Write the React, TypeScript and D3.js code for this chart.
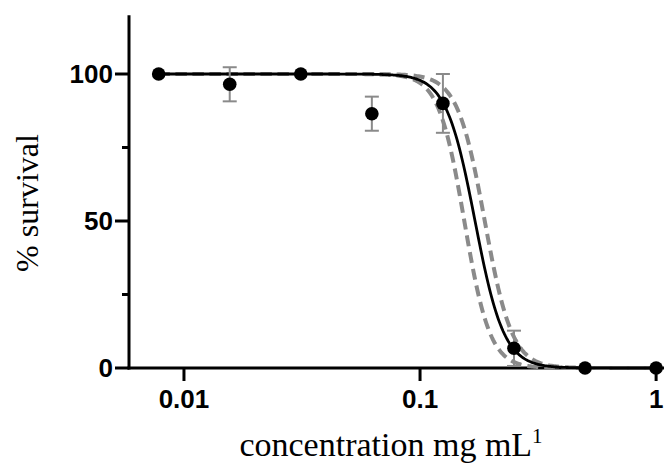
import React from "react";
import * as d3 from "d3";

// ---- data ----
const concentrations = [0.0078125, 0.015625, 0.03125, 0.0625, 0.125, 0.25, 0.5, 1];
const survival = [100, 96.5, 100, 86.5, 90, 6.7, 0, 0];
const errors = [0, 5.8, 0, 5.8, 10, 6, 0, 0];

// fitted dose-response (IC50, Hill slope) for the fit and its 95% bands
const fitParams = { ic50: 0.171, hill: 7.1 };
const lowerBandParams = { ic50: 0.154, hill: 8.0 };
const upperBandParams = { ic50: 0.188, hill: 7.5 };

const yTicksMajor = [0, 50, 100];
const yTicksMinor = [25, 75];
const xTicks = [0.01, 0.1, 1];
const xTickLabels = ["0.01", "0.1", "1"];

const W = 664;
const H = 468;

export default function App() {
  const left = 129;
  const bottom = 368;
  const x = d3.scaleLog().domain([0.00585, 1.08]).range([left, W]);
  const y = d3.scaleLinear().domain([0, 120]).range([bottom, 15.2]);

  const curveXs = d3.range(0, 401).map((i) => {
    const a = Math.log10(concentrations[0]);
    const b = Math.log10(1);
    return Math.pow(10, a + ((b - a) * i) / 400);
  });
  const logistic = (p: { ic50: number; hill: number }) => (c: number) =>
    100 / (1 + Math.pow(c / p.ic50, p.hill));

  const line = d3
    .line<number>()
    .x((c) => x(c))
    .curve(d3.curveLinear);

  const path = (p: { ic50: number; hill: number }) => {
    const f = logistic(p);
    return line.y((c) => y(f(c)))(curveXs) || "";
  };

  const sans = "'Liberation Sans', Arial, Helvetica, sans-serif";
  const serif = "'Palatino Linotype', 'Book Antiqua', Palatino, 'Liberation Serif', serif";

  return (
    <svg
      width={W}
      height={H}
      style={{ position: "absolute", left: 0, top: 0, background: "#fff" }}
    >
      <rect width={W} height={H} fill="#fff" />
      {/* axes */}
      <line x1={left} x2={left} y1={y(120)} y2={bottom + 1.5} stroke="#000" strokeWidth={3} />
      <line x1={left - 1.5} x2={W} y1={bottom} y2={bottom} stroke="#000" strokeWidth={3} />
      {yTicksMajor.map((t) => (
        <g key={"ym" + t}>
          <line x1={left - 14} x2={left} y1={y(t)} y2={y(t)} stroke="#000" strokeWidth={3} />
          <text
            x={left - 16}
            y={y(t)}
            textAnchor="end"
            dominantBaseline="central"
            fontFamily={sans}
            fontWeight="bold"
            fontSize={26}
          >
            {t}
          </text>
        </g>
      ))}
      {yTicksMinor.map((t) => (
        <line key={"yn" + t} x1={left - 7} x2={left} y1={y(t)} y2={y(t)} stroke="#000" strokeWidth={3} />
      ))}
      {xTicks.map((t, i) => (
        <g key={"x" + t}>
          <line x1={x(t)} x2={x(t)} y1={bottom} y2={bottom + 13} stroke="#000" strokeWidth={3} />
          <text
            x={x(t)}
            y={408}
            textAnchor="middle"
            fontFamily={sans}
            fontWeight="bold"
            fontSize={26}
          >
            {xTickLabels[i]}
          </text>
        </g>
      ))}

      {/* confidence bands */}
      <path d={path(lowerBandParams)} fill="none" stroke="#8a8a8a" strokeWidth={4} strokeDasharray="11 6" />
      <path d={path(upperBandParams)} fill="none" stroke="#8a8a8a" strokeWidth={4} strokeDasharray="11 6" />
      {/* fit */}
      <path d={path(fitParams)} fill="none" stroke="#000" strokeWidth={2.8} />

      {/* error bars */}
      {concentrations.map((c, i) =>
        errors[i] > 0 ? (
          <g key={"e" + i} stroke="#8a8a8a" strokeWidth={2}>
            <line x1={x(c)} x2={x(c)} y1={y(survival[i] + errors[i])} y2={y(Math.max(0, survival[i] - errors[i]))} />
            <line x1={x(c) - 7} x2={x(c) + 7} y1={y(survival[i] + errors[i])} y2={y(survival[i] + errors[i])} />
            <line
              x1={x(c) - 7}
              x2={x(c) + 7}
              y1={y(Math.max(0, survival[i] - errors[i]))}
              y2={y(Math.max(0, survival[i] - errors[i]))}
            />
          </g>
        ) : null
      )}
      {/* points */}
      {concentrations.map((c, i) => (
        <circle key={"p" + i} cx={x(c)} cy={y(survival[i])} r={6.8} fill="#000" />
      ))}

      {/* axis titles */}
      <text
        transform={`translate(38, 203) rotate(-90)`}
        textAnchor="middle"
        fontFamily={serif}
        fontSize={32}
      >
        % survival
      </text>
      <text x={391} y={456} textAnchor="middle" fontFamily={serif} fontSize={34}>
        concentration mg mL<tspan fontSize={21} dy={-13}>1</tspan>
      </text>
    </svg>
  );
}
